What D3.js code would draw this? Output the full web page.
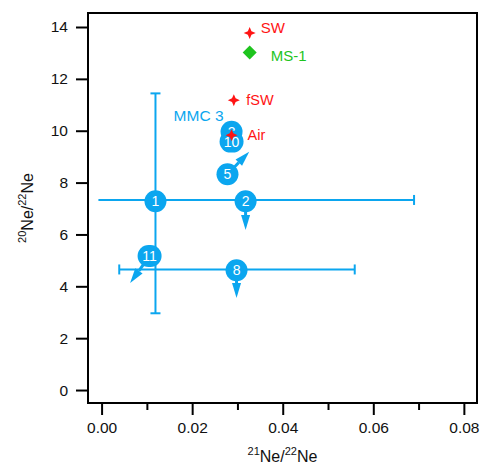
<!DOCTYPE html>
<html>
<head>
<meta charset="utf-8">
<script src="https://cdn.jsdelivr.net/npm/d3@7"></script>
<style>
  html, body { margin: 0; padding: 0; background: #fff; }
  svg { display: block; font-family: Arial, 'Liberation Sans', sans-serif; }
</style>
</head>
<body>
<svg class="chart" width="480" height="464"></svg>
<script>
// Reference compositions
const refNames = ['SW', 'MS-1', 'fSW', 'Air'];
const refX = [0.0327, 0.0327, 0.0292, 0.0287];
const refY = [13.77, 13.02, 11.18, 9.83];
const refShapes = ['star', 'diamond', 'star', 'star'];

// MMC 3 error bars
const barX = [0.0119, 0.0299];
const barY = [7.33, 4.65];
const barXLo = [-0.0007, 0.0039];
const barXHi = [0.069, 0.0559];
const barXLoCap = [false, true];
const barYLo = [2.96, null];
const barYHi = [11.44, null];

// MMC 3 tags: label, tag position, arrow target
const tagLabels = ['1', '2', '3', '10', '5', '8', '11'];
const tagX = [0.0119, 0.0318, 0.0287, 0.0287, 0.0278, 0.0298, 0.0106];
const tagY = [7.28, 7.28, 9.96, 9.58, 8.32, 4.62, 5.17];
const arrowX = [null, 0.0318, null, null, 0.0326, 0.0298, 0.0063];
const arrowY = [null, 6.17, null, null, 9.19, 3.55, 4.13];

// Ticks
const xTicks = [0, 0.02, 0.04, 0.06, 0.08];
const xMinorTicks = [0.01, 0.03, 0.05, 0.07];
const yTicks = [0, 2, 4, 6, 8, 10, 12, 14];

const blue = '#0ba6ef';
const red = '#ff1414';
const green = '#1ec41e';

// Define margins
const margin = { top: 13, right: 3, bottom: 61, left: 88 };
const width = 480 - margin.left - margin.right;
const height = 464 - margin.top - margin.bottom;

// Define scales
const xScale = d3.scaleLinear().domain([-0.003, 0.0829]).range([0, width]);
const yScale = d3.scaleLinear().domain([-0.5, 14.54]).range([height, 0]);

const svg = d3.select('.chart');
const chart = svg.append('g').attr('transform', `translate(${margin.left},${margin.top})`);

// X axis: major ticks with labels, minor ticks without
const xAxis = d3.axisBottom(xScale).tickValues(xTicks).tickFormat(d3.format('.2f')).tickSize(12).tickSizeOuter(0).tickPadding(7);
const gx = chart.append('g').attr('transform', `translate(0,${height})`).call(xAxis);
const xMinor = d3.axisBottom(xScale).tickValues(xMinorTicks).tickFormat('').tickSize(7).tickSizeOuter(0);
const gxm = chart.append('g').attr('transform', `translate(0,${height})`).call(xMinor);

// Y axis
const yAxis = d3.axisLeft(yScale).tickValues(yTicks).tickFormat(d3.format('d')).tickSize(12).tickSizeOuter(0).tickPadding(8);
const gy = chart.append('g').call(yAxis);

[gx, gxm, gy].forEach(g => {
  g.select('.domain').remove();
  g.selectAll('.tick line').attr('stroke', '#000').attr('stroke-width', 2);
  g.selectAll('.tick text').attr('font-size', 15.5).attr('fill', '#111').attr('font-family', 'Arial, Liberation Sans, sans-serif');
});

// Frame
chart.append('rect')
  .attr('width', width).attr('height', height)
  .attr('fill', 'none').attr('stroke', '#000').attr('stroke-width', 2);

// Axis titles with superscripts
function isotopeTitle(sel, a, b) {
  sel.append('tspan').attr('font-size', 11).attr('dy', -7).text(a);
  sel.append('tspan').attr('font-size', 16).attr('dy', 7).text('Ne/');
  sel.append('tspan').attr('font-size', 11).attr('dy', -7).text(b);
  sel.append('tspan').attr('font-size', 16).attr('dy', 7).text('Ne');
}
svg.append('text')
  .attr('x', margin.left + width / 2).attr('y', 462)
  .attr('text-anchor', 'middle').attr('fill', '#111')
  .call(isotopeTitle, '21', '22');
svg.append('text')
  .attr('transform', `translate(33,${margin.top + height / 2}) rotate(-90)`)
  .attr('text-anchor', 'middle').attr('fill', '#111')
  .call(isotopeTitle, '20', '22');

// Error bars
const bars = chart.append('g').attr('stroke', blue).attr('stroke-width', 2).attr('fill', 'none');
barX.forEach((x, i) => {
  const cy = yScale(barY[i]);
  bars.append('line').attr('x1', xScale(barXLo[i])).attr('x2', xScale(barXHi[i])).attr('y1', cy).attr('y2', cy);
  bars.append('line').attr('x1', xScale(barXHi[i])).attr('x2', xScale(barXHi[i])).attr('y1', cy - 5).attr('y2', cy + 5);
  if (barXLoCap[i]) {
    bars.append('line').attr('x1', xScale(barXLo[i])).attr('x2', xScale(barXLo[i])).attr('y1', cy - 5).attr('y2', cy + 5);
  }
  if (barYLo[i] !== null) {
    const cx = xScale(x);
    bars.append('line').attr('x1', cx).attr('x2', cx).attr('y1', yScale(barYLo[i])).attr('y2', yScale(barYHi[i]));
    [barYLo[i], barYHi[i]].forEach(v => {
      bars.append('line').attr('x1', cx - 5).attr('x2', cx + 5).attr('y1', yScale(v)).attr('y2', yScale(v));
    });
  }
});

// Tag arrows
const arrows = chart.append('g');
tagLabels.forEach((label, i) => {
  if (arrowX[i] === null) return;
  const x0 = xScale(tagX[i]), y0 = yScale(tagY[i]);
  const x1 = xScale(arrowX[i]), y1 = yScale(arrowY[i]);
  const ang = Math.atan2(y1 - y0, x1 - x0);
  const headLen = 15, headW = 4.5;
  const bx = x1 - headLen * Math.cos(ang), by = y1 - headLen * Math.sin(ang);
  arrows.append('line').attr('x1', x0).attr('y1', y0).attr('x2', bx).attr('y2', by)
    .attr('stroke', blue).attr('stroke-width', 3);
  const px = -Math.sin(ang) * headW, py = Math.cos(ang) * headW;
  arrows.append('path')
    .attr('d', `M${x1},${y1}L${bx + px},${by + py}L${bx - px},${by - py}Z`)
    .attr('fill', blue);
});

// Tags
const tags = chart.append('g');
tagLabels.forEach((label, i) => {
  const cx = xScale(tagX[i]), cy = yScale(tagY[i]);
  const w = label.length > 1 ? 24 : 22;
  tags.append('rect')
    .attr('x', cx - w / 2).attr('y', cy - 11).attr('width', w).attr('height', 22)
    .attr('rx', 11).attr('fill', blue);
  tags.append('text')
    .attr('x', cx).attr('y', cy + 5)
    .attr('text-anchor', 'middle').attr('font-size', 14).attr('fill', '#fff')
    .text(label);
});

// Series label
chart.append('text')
  .attr('x', xScale(0.0159)).attr('y', yScale(10.6) + 5.5)
  .attr('font-size', 15.5).attr('fill', blue)
  .text('MMC 3');

// Reference points
function sparkle(r, ri) {
  return `M0,${-r}L${ri},${-ri}L${r},0L${ri},${ri}L0,${r}L${-ri},${ri}L${-r},0L${-ri},${-ri}Z`;
}
const labelOffsets = {
  'SW': [11, -5.5, 15, red],
  'MS-1': [21, 3, 15, green],
  'fSW': [12.5, 0, 14.5, red],
  'Air': [16, 0, 14.5, red]
};
const refs = chart.append('g');
refNames.forEach((name, i) => {
  const cx = xScale(refX[i]), cy = yScale(refY[i]);
  if (refShapes[i] === 'star') {
    refs.append('path').attr('d', sparkle(6, 1.8)).attr('transform', `translate(${cx},${cy})`).attr('fill', red);
  } else {
    refs.append('path').attr('d', 'M0,-7L7,0L0,7L-7,0Z').attr('transform', `translate(${cx},${cy})`).attr('fill', green);
  }
  const [dx, dy, fs, col] = labelOffsets[name];
  refs.append('text')
    .attr('x', cx + dx).attr('y', cy + dy + fs * 0.36)
    .attr('font-size', fs).attr('fill', col)
    .text(name);
});
</script>
</body>
</html>
